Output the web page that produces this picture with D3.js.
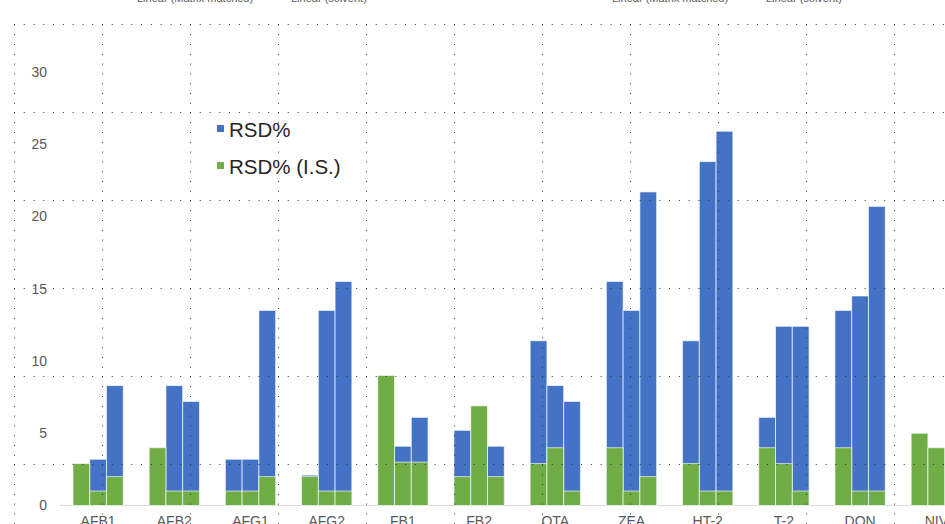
<!DOCTYPE html>
<html>
  <head>
    <title>RSD</title>
    <script src="https://cdn.jsdelivr.net/npm/d3@7/dist/d3.min.js"></script>
    <style>
      body { margin: 0; background: #fff; }
      text { font-family: 'Liberation Sans', Arial, sans-serif; }
    </style>
  </head>
  <body>
    <svg width="945" height="524" id="mainsvg"></svg>
    <script>
      const categories = ['AFB1', 'AFB2', 'AFG1', 'AFG2', 'FB1', 'FB2', 'OTA', 'ZEA', 'HT-2', 'T-2', 'DON', 'NIV'];
      const levels = ['L1', 'L2', 'L3'];
      // RSD% (blue, behind), null = hidden behind the green bar
      const rsd = [
        [null, 3.2, 8.3], [null, 8.3, 7.2], [3.2, 3.2, 13.5], [2.1, 13.5, 15.5],
        [null, 4.1, 6.1], [5.2, null, 4.1], [11.4, 8.3, 7.2], [15.5, 13.5, 21.7],
        [11.4, 23.8, 25.9], [6.1, 12.4, 12.4], [13.5, 14.5, 20.7], [null, null, null]
      ];
      // RSD% (I.S.) (green, in front)
      const rsdIS = [
        [2.9, 1.0, 2.0], [4.0, 1.0, 1.0], [1.0, 1.0, 2.0], [2.0, 1.0, 1.0],
        [9.0, 3.0, 3.0], [2.0, 6.9, 2.0], [2.9, 4.0, 1.0], [4.0, 1.0, 2.0],
        [2.9, 1.0, 1.0], [4.0, 2.9, 1.0], [4.0, 1.0, 1.0], [5.0, 4.0, null]
      ];
      const yTicks = [0, 5, 10, 15, 20, 25, 30];
      const seriesNames = ['RSD%', 'RSD% (I.S.)'];
      const colors = ['#4472C4', '#70AD47'];
      const topTexts = ['Linear (Matrix matched)', 'Linear (solvent)'];

      const svg = d3.select('#mainsvg');
      const width = +svg.attr('width');
      const height = +svg.attr('height');

      const xScale = d3.scaleBand()
        .domain(categories)
        .range([60, 974.4])
        .paddingInner(0.34)
        .paddingOuter(0.17);
      const xSub = d3.scaleBand()
        .domain(levels)
        .range([0, xScale.bandwidth()]);
      const yScale = d3.scaleLinear()
        .domain([0, 35])
        .range([505.5, 505.5 - 35 * 14.45]);

      // cut-off legend texts of the charts above
      [137, 612].forEach(x0 => {
        svg.append('text').text(topTexts[0]).attr('x', x0).attr('y', 2)
          .attr('font-size', 11).attr('fill', '#595959');
        svg.append('text').text(topTexts[1]).attr('x', x0 + 154).attr('y', 2)
          .attr('font-size', 11).attr('fill', '#595959');
      });

      // y tick labels
      svg.append('g').selectAll('text').data(yTicks).join('text')
        .text(d => d)
        .attr('x', 47)
        .attr('y', d => yScale(d))
        .attr('dy', '0.35em')
        .attr('text-anchor', 'end')
        .attr('font-size', 14)
        .attr('fill', '#595959');

      // baseline
      svg.append('line')
        .attr('x1', 60).attr('x2', width)
        .attr('y1', yScale(0)).attr('y2', yScale(0))
        .attr('stroke', '#d9d9d9').attr('stroke-width', 1);

      const groups = svg.append('g').selectAll('g').data(categories).join('g')
        .attr('transform', d => `translate(${xScale(d)},0)`);

      [rsd, rsdIS].forEach((series, si) => {
        groups.selectAll('rect.s' + si)
          .data((d, i) => levels.map((l, j) => ({level: l, value: series[i][j]})).filter(e => e.value !== null))
          .join('rect')
          .attr('class', 's' + si)
          .attr('x', e => xSub(e.level))
          .attr('width', xSub.bandwidth())
          .attr('y', e => yScale(e.value))
          .attr('height', e => yScale(0) - yScale(e.value))
          .attr('fill', colors[si])
          .attr('stroke', '#fff')
          .attr('stroke-opacity', 0.65)
          .attr('stroke-width', 1);
      });

      // category labels (cut off at the bottom)
      svg.append('g').selectAll('text').data(categories).join('text')
        .text(d => d)
        .attr('x', d => xScale(d) + xScale.bandwidth() / 2)
        .attr('y', 526)
        .attr('text-anchor', 'middle')
        .attr('font-size', 14)
        .attr('fill', '#595959');

      // legend
      const legend = svg.append('g').attr('transform', 'translate(217,125)');
      seriesNames.forEach((name, i) => {
        legend.append('rect').attr('x', 0).attr('y', i * 37).attr('width', 7).attr('height', 7)
          .attr('fill', colors[i]);
        legend.append('text').text(name).attr('x', 12).attr('y', i * 37 + 11.5)
          .attr('font-size', 20.5).attr('fill', '#262626');
      });

      // dotted overlay grid
      const grid = svg.append('g')
        .attr('stroke', '#333').attr('stroke-width', 1).attr('stroke-dasharray', `1,${88 / 9 - 1}`);
      grid.selectAll('line.h').data(d3.range(24.5, height, 88)).join('line')
        .attr('class', 'h')
        .attr('x1', 14).attr('x2', width).attr('y1', d => d).attr('y2', d => d);
      grid.selectAll('line.v').data(d3.range(14.5, width, 88)).join('line')
        .attr('class', 'v')
        .attr('x1', d => d).attr('x2', d => d).attr('y1', 24.5).attr('y2', height);
    </script>
  </body>
</html>
